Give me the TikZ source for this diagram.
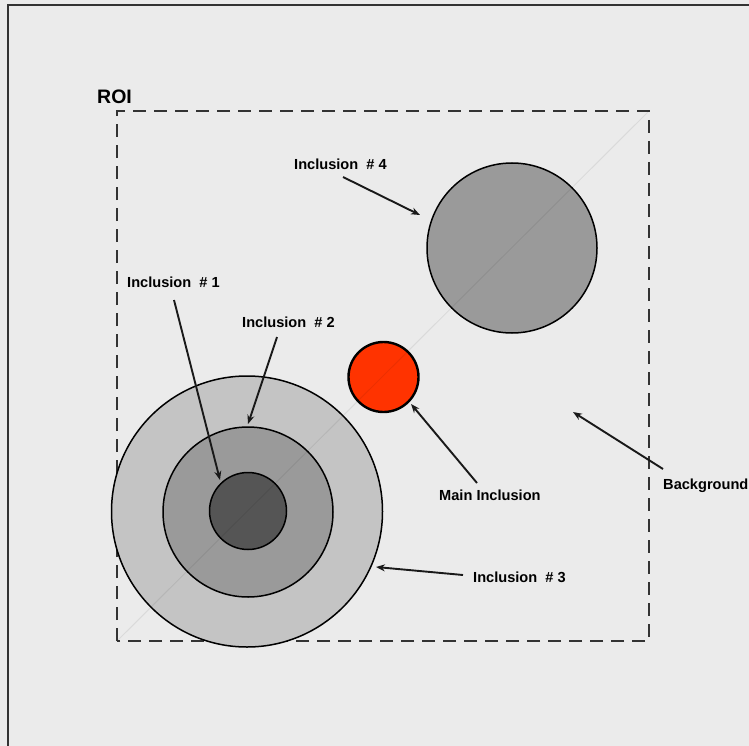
\documentclass[tikz,border=0pt]{standalone}
\usepackage{fontspec}
\setmainfont{Liberation Sans}
\usetikzlibrary{arrows.meta}
\definecolor{bgc}{HTML}{EBEBEB}
\definecolor{framec}{HTML}{333333}
\definecolor{incA}{HTML}{555555}
\definecolor{incB}{HTML}{9A9A9A}
\definecolor{incC}{HTML}{C4C4C4}
\definecolor{mainred}{HTML}{FF3300}
\tikzset{
  lbl/.style={anchor=base west,inner sep=0pt,font=\fontsize{14.6}{16}\selectfont\bfseries,text=black},
  incl/.style={circle,draw=black,line width=1.5pt,inner sep=0pt,minimum size=#1},
  ptr/.style={line width=1.9pt,-{Stealth[length=9pt,width=7pt]},draw=black!90},
  roibox/.style={draw=framec,line width=2pt,dash pattern=on 13pt off 8pt},
}
\begin{document}
\begin{tikzpicture}[x=1pt,y=-1pt]
\useasboundingbox (0,0) rectangle (749,746);
\fill[bgc] (0,0) rectangle (749,746);
\draw[framec,line width=2.5pt] (8,746) -- (8,5) -- (749,5);
% ROI
\node[lbl,font=\fontsize{19.5}{22}\selectfont\bfseries] (roi) at (97,104) {ROI};
\coordinate (roiBL) at (117,641);
\coordinate (roiTR) at (649,111);
\draw[roibox] (roiBL) rectangle (roiTR);
% circles
\node[incl=271pt,fill=incC] (c3) at (247,511.5) {};
\node[incl=170pt,fill=incB] (c2) at (248,512) {};
\node[incl=77pt,fill=incA] (c1) at (248,511) {};
\node[incl=170pt,fill=incB] (c4) at (512,248) {};
\node[incl=70pt,fill=mainred,line width=2.4pt] (cm) at (383.5,377) {};
% diagonal
\draw[black,opacity=0.07,line width=1pt] (roiBL) -- (roiTR);
% labels
\node[lbl] (l4) at (294,170) {Inclusion\ \ \#\ 4};
\node[lbl] (l1) at (127,287) {Inclusion\ \ \#\ 1};
\node[lbl] (l2) at (242,327) {Inclusion\ \ \#\ 2};
\node[lbl] (lm) at (439,500) {Main Inclusion};
\node[lbl] (lb) at (663,489) {Background};
\node[lbl] (l3) at (473,582) {Inclusion\ \ \#\ 3};
% arrow ends
\coordinate (t4) at (343,177); \coordinate (h4) at (420,215);
\coordinate (t1) at (174,300); \coordinate (h1) at (220,480);
\coordinate (t2) at (277,337); \coordinate (h2) at (248,424);
\coordinate (tm) at (477,483); \coordinate (hm) at (411,404);
\coordinate (tb) at (663,469); \coordinate (hb) at (573,412);
\coordinate (t3) at (463,575); \coordinate (h3) at (376,567);
\draw[ptr] (t4) -- (h4);
\draw[ptr] (t1) -- (h1);
\draw[ptr] (t2) -- (h2);
\draw[ptr] (tm) -- (hm);
\draw[ptr] (tb) -- (hb);
\draw[ptr] (t3) -- (h3);
\end{tikzpicture}
\end{document}
